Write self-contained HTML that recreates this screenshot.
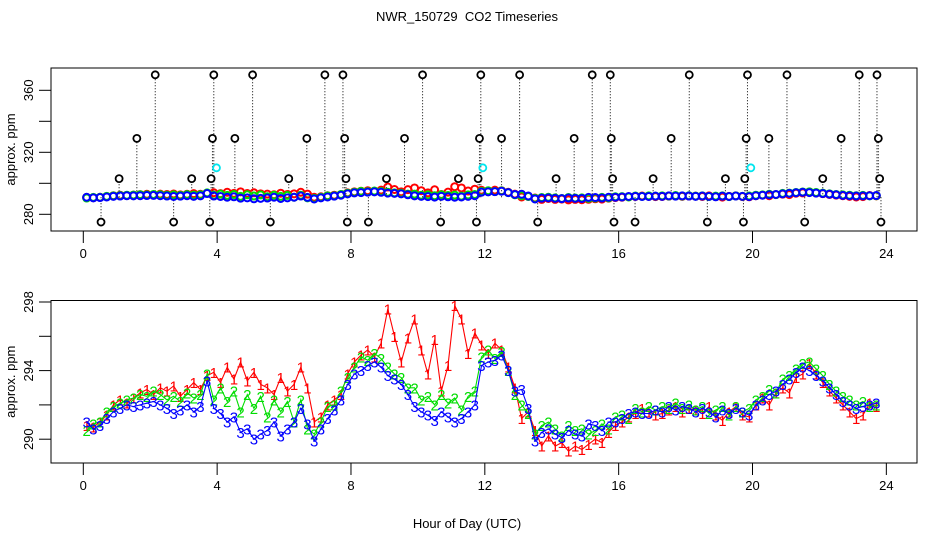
<!DOCTYPE html>
<html><head><meta charset="utf-8"><style>
body{margin:0;background:#fff;}
svg{display:block;font-family:"Liberation Sans",sans-serif;}
</style></head><body>
<svg id="chart" width="936" height="540">
<rect width="936" height="540" fill="#fff"/>
<text x="467" y="21" font-size="13" text-anchor="middle">NWR_150729&#160; CO2 Timeseries</text>
<g id="topPanel"></g>
<g id="botPanel"></g>
<text x="467" y="528" font-size="13" text-anchor="middle">Hour of Day (UTC)</text>
</svg>
<script>
const hourStart = 0.1, hourStep = 0.2;
const s1 = [290.8,290.7,291.0,291.4,292.0,292.3,292.1,292.4,292.7,292.9,292.6,293.0,292.8,293.1,292.5,292.9,293.3,292.9,293.7,293.9,293.3,294.2,293.5,294.5,293.4,293.9,293.2,293.0,292.6,293.6,292.8,293.2,294.2,293.0,291.0,291.3,292.0,292.3,292.6,293.8,294.5,294.9,295.2,294.8,295.6,297.6,296.0,294.5,295.9,297.0,295.2,293.8,295.8,292.8,294.3,297.8,297.0,295.0,296.2,295.5,295.0,295.6,295.2,294.2,293.0,291.2,291.6,290.5,289.6,290.2,289.6,289.8,289.3,289.6,289.4,289.7,290.0,289.8,290.4,290.8,291.0,291.3,291.5,291.8,291.6,291.4,291.5,291.7,291.9,291.6,291.8,291.7,291.5,291.9,291.4,291.1,291.6,291.9,291.4,291.3,292.0,292.4,292.0,292.7,293.0,292.7,293.6,293.8,294.4,293.8,293.3,292.8,292.4,292.0,291.6,291.2,291.4,292.1,291.9];
const s2 = [290.5,290.9,291.0,291.6,291.9,292.1,292.3,292.4,292.6,292.5,292.8,292.6,292.3,292.5,292.2,292.7,292.4,292.6,293.8,292.3,293.0,292.2,292.8,291.6,292.6,291.8,292.5,291.3,292.3,291.6,292.2,291.0,292.3,290.6,290.3,291.0,291.9,292.0,292.8,293.6,294.2,294.8,294.6,295.0,294.7,294.2,293.8,293.6,293.0,293.0,292.3,292.5,292.0,292.6,292.1,292.4,291.7,292.5,292.8,294.8,295.2,294.7,295.1,294.0,292.6,292.0,291.5,290.3,290.8,291.0,290.6,290.2,290.8,290.5,290.6,290.3,290.5,290.9,290.6,291.3,291.4,291.2,291.8,291.6,291.9,291.7,291.9,291.8,292.1,291.8,292.0,291.7,291.9,291.5,291.7,291.9,291.4,291.9,291.6,291.8,292.3,292.5,292.9,292.7,293.5,293.7,294.1,294.4,294.5,294.1,293.7,293.2,292.8,292.5,292.3,292.0,292.2,291.9,292.0];
const s3 = [291.0,290.6,290.8,291.2,291.6,291.8,292.0,291.9,292.0,292.1,292.2,292.0,291.8,291.5,291.7,292.0,291.6,291.9,293.4,291.8,291.5,291.0,291.3,290.4,290.6,290.0,290.3,290.5,291.0,290.2,290.6,291.0,291.8,290.9,289.9,290.6,291.2,291.7,292.3,293.2,293.8,294.0,294.3,294.5,294.2,293.7,293.5,293.2,292.6,291.9,291.6,291.4,291.1,291.6,291.3,291.0,291.2,291.6,292.0,294.3,294.5,294.6,294.9,294.0,292.8,292.9,291.8,289.9,290.4,290.6,290.3,290.1,290.5,290.3,290.2,290.9,290.8,290.5,291.0,291.0,291.2,291.5,291.6,291.5,291.5,291.7,291.6,291.9,291.7,291.9,291.8,291.6,291.8,291.6,291.3,291.7,291.5,291.8,291.6,291.4,292.0,292.3,292.6,292.8,293.2,293.5,293.9,294.2,294.0,293.7,293.4,293.0,292.6,292.2,292.0,291.8,291.9,292.0,292.1];
const calHours = [0.53,1.07,1.60,2.15,2.70,3.24,3.78,3.82,3.86,3.90,4.53,5.06,5.59,6.14,6.68,7.22,7.76,7.81,7.85,7.89,8.52,9.06,9.60,10.14,10.68,11.21,11.75,11.80,11.84,11.88,12.50,13.04,13.58,14.13,14.67,15.21,15.75,15.78,15.82,15.86,16.49,17.03,17.57,18.11,18.65,19.19,19.73,19.77,19.81,19.85,20.49,21.03,21.56,22.10,22.65,23.19,23.72,23.76,23.80,23.84];
const calValues = [275,303,329,370,275,303,275,303,329,370,329,370,275,303,329,370,370,329,303,275,275,303,329,370,275,303,275,303,329,370,329,370,275,303,329,370,370,329,303,275,275,303,329,370,275,303,275,303,329,370,329,370,275,303,329,370,370,329,303,275];
const cyanHours = [3.98,11.94,19.95];
const cyanValues = [310,310,310];
const xTicks = [0,4,8,12,16,20,24];
const topYTicks = [280,300,320,340,360];
const topYLabels = ["280","","320","","360"];
const botYTicks = [290,292,294,296,298];
const botYLabels = ["290","","294","","298"];

const NS="http://www.w3.org/2000/svg";
const xs = h => 83.3 + h*33.46;
const yTop = v => 214.3 - (v-280)*1.55;
const yBot = v => 302 + (298-v)*17.15;
function el(tag, attrs, parent){const e=document.createElementNS(NS,tag);for(const k in attrs)e.setAttribute(k,attrs[k]);parent.appendChild(e);return e;}
const hours = s1.map((_,i)=>+(hourStart+i*hourStep).toFixed(2));
const colors=["#ff0000","#00dd00","#0000ff"];
const series=[s1,s2,s3];

function axes(g, y0, y1, yf, yt, yl, prefix){
  const box=el('rect',{x:51,y:y0,width:866,height:y1-y0,fill:'none',stroke:'#000','stroke-width':1},g);
  
  
  xTicks.forEach(t=>{
    const l=el('line',{x1:xs(t),x2:xs(t),y1:y1,y2:y1+12,stroke:'#000'},g);
    
    
    const tx=el('text',{x:xs(t),y:y1+27,'font-size':13,'text-anchor':'middle'},g);tx.textContent=t;
    
    
  });
  yt.forEach((t,i)=>{
    const y=yf(t);
    const l=el('line',{x1:39,x2:51,y1:y,y2:y,stroke:'#000'},g);
    
    
    if(yl[i]){const tx=el('text',{x:0,y:0,'font-size':13,'text-anchor':'middle',transform:`translate(33,${y}) rotate(-90)`},g);tx.textContent=yl[i];
    
    }
  });
  const yt2=el('text',{x:0,y:0,'font-size':13,'text-anchor':'middle',transform:`translate(15,${(y0+y1)/2}) rotate(-90)`},g);yt2.textContent='approx. ppm';
  
  
}
const topG=document.getElementById('topPanel'), botG=document.getElementById('botPanel');
axes(topG,68,231,yTop,topYTicks,topYLabels,'top');
axes(botG,300.5,463,yBot,botYTicks,botYLabels,'bottom');

calHours.forEach((h,i)=>{
  const l=el('line',{x1:xs(h),x2:xs(h),y1:yTop(291),y2:yTop(calValues[i]),stroke:'#000','stroke-dasharray':'1,2','stroke-width':1},topG);
  
  
});
series.forEach((s,k)=>{
  s.forEach((v,i)=>{
    const c=el('circle',{cx:xs(hours[i]),cy:yTop(v),r:3.5,fill:'none',stroke:colors[k],'stroke-width':2},topG);
    
    
  });
});
calHours.forEach((h,i)=>{
  const c=el('circle',{cx:xs(h),cy:yTop(calValues[i]),r:3.5,fill:'#fff',stroke:'#000','stroke-width':1.8},topG);
  
  
});
cyanHours.forEach((h,i)=>{
  const c=el('circle',{cx:xs(h),cy:yTop(cyanValues[i]),r:3.5,fill:'none',stroke:'#00e5ee','stroke-width':1.8},topG);
  
  
});

series.forEach((s,k)=>{
  const d=s.map((v,i)=>(i?'L':'M')+xs(hours[i]).toFixed(1)+','+yBot(v).toFixed(1)).join('');
  const p=el('path',{d:d,fill:'none',stroke:colors[k],'stroke-width':1.1},botG);
  
  
  s.forEach((v,i)=>{
    const t=el('text',{x:xs(hours[i]),y:yBot(v)+5.5,'font-size':15,'text-anchor':'middle',fill:colors[k]},botG);
    t.textContent=String(k+1);
    
    
  });
});
</script>
</body></html>
